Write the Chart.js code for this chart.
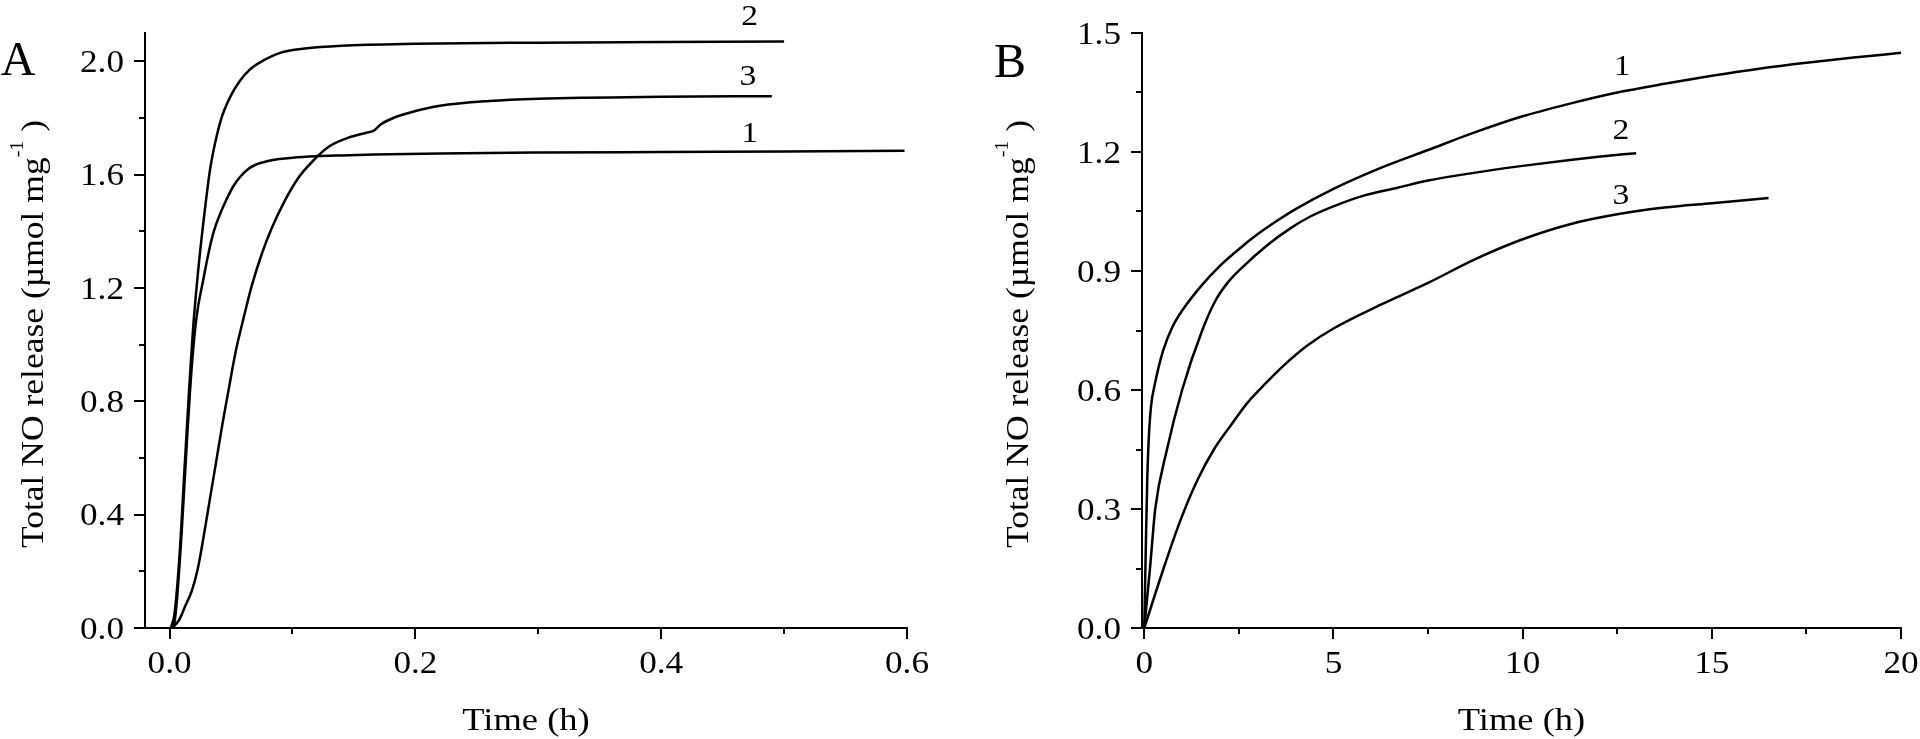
<!DOCTYPE html>
<html>
<head>
<meta charset="utf-8">
<script src="https://cdn.jsdelivr.net/npm/chart.js@4.4.1/dist/chart.umd.min.js"></script>
<style>
  html, body { margin: 0; padding: 0; background: #fff; }
  #wrap { position: relative; width: 1920px; height: 739px; }
  canvas { position: absolute; top: 0; }
  #chartA { left: 0; }
  #chartB { left: 960px; }
</style>
</head>
<body>
<div id="wrap">
  <canvas id="chartA" width="960" height="739"></canvas>
  <canvas id="chartB" width="960" height="739"></canvas>
</div>
<script>
// Panel A - short time scale (h) vs total NO release (umol/mg)
const timeA1 = [0.002, 0.004, 0.006, 0.010, 0.014, 0.018, 0.022, 0.027, 0.032, 0.036, 0.041, 0.046, 0.052, 0.057, 0.064, 0.070, 0.080, 0.089, 0.100, 0.119, 0.140, 0.166, 0.220, 0.300, 0.400, 0.500, 0.598];
const relA1  = [0, 0.02, 0.10, 0.35, 0.65, 0.92, 1.10, 1.22, 1.33, 1.40, 1.46, 1.51, 1.56, 1.59, 1.62, 1.635, 1.648, 1.655, 1.660, 1.665, 1.668, 1.671, 1.675, 1.678, 1.680, 1.682, 1.684];

const timeA2 = [0.001, 0.004, 0.008, 0.012, 0.016, 0.019, 0.023, 0.028, 0.033, 0.038, 0.043, 0.050, 0.057, 0.065, 0.075, 0.090, 0.110, 0.140, 0.200, 0.300, 0.400, 0.500];
const relA2  = [0, 0.05, 0.25, 0.55, 0.85, 1.05, 1.25, 1.45, 1.62, 1.73, 1.81, 1.88, 1.93, 1.97, 2.00, 2.03, 2.045, 2.055, 2.062, 2.066, 2.068, 2.070];

const timeA3 = [0.002, 0.008, 0.013, 0.018, 0.023, 0.028, 0.033, 0.038, 0.043, 0.048, 0.054, 0.060, 0.067, 0.075, 0.083, 0.094, 0.105, 0.117, 0.130, 0.145, 0.160, 0.166, 0.172, 0.182, 0.198, 0.220, 0.260, 0.300, 0.400, 0.490];
const relA3  = [0, 0.03, 0.08, 0.13, 0.21, 0.33, 0.46, 0.59, 0.72, 0.84, 0.98, 1.09, 1.21, 1.32, 1.41, 1.51, 1.59, 1.65, 1.70, 1.73, 1.748, 1.755, 1.778, 1.80, 1.822, 1.843, 1.86, 1.868, 1.875, 1.877];

// Panel B - long time scale
const timeB1 = [0, 0.04, 0.08, 0.12, 0.18, 0.28, 0.5, 0.75, 1.0, 1.5, 2.0, 2.5, 3.0, 3.5, 4.0, 5.0, 6.25, 7.5, 8.75, 10, 11.25, 12.5, 13.75, 15, 16.25, 17.5, 18.75, 20];
const relB1  = [0, 0.20, 0.38, 0.48, 0.56, 0.615, 0.70, 0.76, 0.80, 0.862, 0.913, 0.955, 0.993, 1.026, 1.056, 1.107, 1.16, 1.205, 1.25, 1.29, 1.322, 1.35, 1.372, 1.392, 1.41, 1.425, 1.438, 1.45];

const timeB2 = [0, 0.16, 0.29, 0.6, 1.0, 1.53, 1.88, 2.2, 2.6, 3.25, 3.87, 4.4, 5.0, 5.8, 6.7, 7.5, 8.75, 10, 11.25, 12.0, 13.0];
const relB2  = [0, 0.16, 0.30, 0.45, 0.60, 0.75, 0.825, 0.87, 0.91, 0.965, 1.008, 1.038, 1.063, 1.09, 1.11, 1.128, 1.148, 1.165, 1.18, 1.188, 1.197];

const timeB3 = [0, 0.51, 0.95, 1.39, 1.84, 2.28, 2.72, 3.16, 3.69, 4.31, 5.0, 6.25, 7.5, 8.75, 10, 11.25, 12.5, 13.75, 15, 16.5];
const relB3  = [0, 0.15, 0.27, 0.37, 0.45, 0.51, 0.567, 0.612, 0.662, 0.712, 0.755, 0.815, 0.87, 0.93, 0.98, 1.018, 1.043, 1.06, 1.071, 1.084];

// axis ticks
const xMajorA = [0, 0.2, 0.4, 0.6];
const xMinorA = [0.1, 0.3, 0.5];
const yMajorA = [0, 0.4, 0.8, 1.2, 1.6, 2.0];
const yMinorA = [0.2, 0.6, 1.0, 1.4, 1.8];
const xMajorB = [0, 5, 10, 15, 20];
const xMinorB = [2.5, 7.5, 12.5, 17.5];
const yMajorB = [0, 0.3, 0.6, 0.9, 1.2, 1.5];
const yMinorB = [0.15, 0.45, 0.75, 1.05, 1.35];

// curve numbers, anchored (centre, baseline) in data units
const curveNames = ['1', '2', '3'];
const labelTimeA = [0.472, 0.472, 0.4705];
const labelRelA  = [1.714, 2.127, 1.915];
const labelTimeB = [12.63, 12.6, 12.6];
const labelRelB  = [1.394, 1.233, 1.069];

const SERIF = "'Liberation Serif', 'Times New Roman', Times, serif";

function points(xs, ys) {
    return xs.map((x, i) => ({ x: x, y: ys[i] }));
}

// the figure's lettering is a little wider than the font, so stretch it sideways
function stretchText(ctx, text, x, y, size, sx, align) {
    ctx.save();
    ctx.translate(x, y);
    ctx.scale(sx, 1);
    ctx.font = size + 'px ' + SERIF;
    ctx.textAlign = align;
    ctx.textBaseline = 'alphabetic';
    ctx.fillStyle = '#000';
    ctx.fillText(text, 0, 0);
    ctx.restore();
}

function drawYTitle(ctx, baseX, cy, length) {
    const main = 'Total NO release (\u00b5mol mg';
    const sup = '-1';
    const tail = ' )';
    const big = '32px ' + SERIF;
    const small = '18px ' + SERIF;
    ctx.save();
    ctx.font = big;
    const w1 = ctx.measureText(main).width;
    const w3 = ctx.measureText(tail).width;
    ctx.font = small;
    const w2 = ctx.measureText(sup).width;
    const total = w1 + w2 + w3;
    const x0 = -total / 2;
    ctx.translate(baseX, cy);
    ctx.rotate(-Math.PI / 2);
    ctx.scale(length / total, 1);
    ctx.textAlign = 'left';
    ctx.textBaseline = 'alphabetic';
    ctx.fillStyle = '#000';
    ctx.font = big;
    ctx.fillText(main, x0, 0);
    ctx.font = small;
    ctx.fillText(sup, x0 + w1, -20);
    ctx.font = big;
    ctx.fillText(tail, x0 + w1 + w2, 0);
    ctx.restore();
}

// outward tick marks, tick labels, titles, panel letter and curve numbers
const decorPlugin = {
    id: 'decor',
    afterDraw(chart, args, o) {
        const ctx = chart.ctx;
        const xs = chart.scales.x, ys = chart.scales.y;
        const area = chart.chartArea;
        ctx.save();
        ctx.strokeStyle = '#000';
        ctx.lineWidth = 2;
        ctx.beginPath();
        o.xMajor.forEach(v => { const p = Math.round(xs.getPixelForValue(v)); ctx.moveTo(p, area.bottom); ctx.lineTo(p, area.bottom + 11); });
        o.xMinor.forEach(v => { const p = Math.round(xs.getPixelForValue(v)); ctx.moveTo(p, area.bottom); ctx.lineTo(p, area.bottom + 6); });
        o.yMajor.forEach(v => { const p = Math.round(ys.getPixelForValue(v)); ctx.moveTo(area.left - 11, p); ctx.lineTo(area.left, p); });
        o.yMinor.forEach(v => { const p = Math.round(ys.getPixelForValue(v)); ctx.moveTo(area.left - 6, p); ctx.lineTo(area.left, p); });
        ctx.stroke();
        ctx.restore();

        o.xMajor.forEach(v => stretchText(ctx, o.xFormat(v), xs.getPixelForValue(v), area.bottom + 45, 32, 1.1, 'center'));
        o.yMajor.forEach(v => stretchText(ctx, v.toFixed(1), area.left - 21, ys.getPixelForValue(v) + 10.5, 32, 1.1, 'right'));

        stretchText(ctx, 'Time (h)', (area.left + area.right) / 2, 730, 32, 1.14, 'center');
        drawYTitle(ctx, o.titleX, 334, 428);

        o.names.forEach((n, i) => {
            stretchText(ctx, n, xs.getPixelForValue(o.labelX[i]), ys.getPixelForValue(o.labelY[i]), 30, 1.12, 'center');
        });

        stretchText(ctx, o.letter, o.letterX, o.letterY, 48, 1, 'center');
    }
};

function makeChart(id, sets, cfg) {
    const canvas = document.getElementById(id);
    return new Chart(canvas, {
        type: 'line',
        data: {
            datasets: sets.map(s => ({
                data: s,
                borderColor: '#000',
                borderWidth: 2.5,
                pointRadius: 0,
                fill: false,
                cubicInterpolationMode: 'monotone'
            }))
        },
        options: {
            responsive: false,
            animation: false,
            devicePixelRatio: 1,
            layout: { padding: { left: 0, right: cfg.padRight, top: 33, bottom: 0 } },
            plugins: {
                legend: { display: false },
                tooltip: { enabled: false },
                decor: cfg.decor
            },
            scales: {
                x: {
                    type: 'linear',
                    min: cfg.xMin,
                    max: cfg.xMax,
                    afterFit: s => { s.height = 111; },
                    grid: { display: false, drawTicks: false },
                    border: { display: true, color: '#000', width: 2 },
                    ticks: { display: false }
                },
                y: {
                    type: 'linear',
                    min: 0,
                    max: cfg.yMax,
                    afterFit: s => { s.width = cfg.yWidth; },
                    grid: { display: false, drawTicks: false },
                    border: { display: true, color: '#000', width: 2 },
                    ticks: { display: false }
                }
            }
        },
        plugins: [decorPlugin]
    });
}

function drawAll() {
    makeChart('chartA',
        [points(timeA1, relA1), points(timeA2, relA2), points(timeA3, relA3)],
        {
            xMin: -0.02, xMax: 0.6, yMax: 2.1, yWidth: 145, padRight: 53,
            decor: {
                xMajor: xMajorA, xMinor: xMinorA, yMajor: yMajorA, yMinor: yMinorA,
                xFormat: v => v.toFixed(1),
                names: curveNames, labelX: labelTimeA, labelY: labelRelA,
                letter: 'A', letterX: 18, letterY: 75, titleX: 43
            }
        });

    makeChart('chartB',
        [points(timeB1, relB1), points(timeB2, relB2), points(timeB3, relB3)],
        {
            xMin: -0.06, xMax: 20, yMax: 1.5, yWidth: 182, padRight: 19,
            decor: {
                xMajor: xMajorB, xMinor: xMinorB, yMajor: yMajorB, yMinor: yMinorB,
                xFormat: v => String(v),
                names: curveNames, labelX: labelTimeB, labelY: labelRelB,
                letter: 'B', letterX: 50, letterY: 77, titleX: 68
            }
        });
}

// make sure the serif face is ready before the canvases use it
document.fonts.load("32px 'Liberation Serif'").then(drawAll, drawAll);
</script>
</body>
</html>
